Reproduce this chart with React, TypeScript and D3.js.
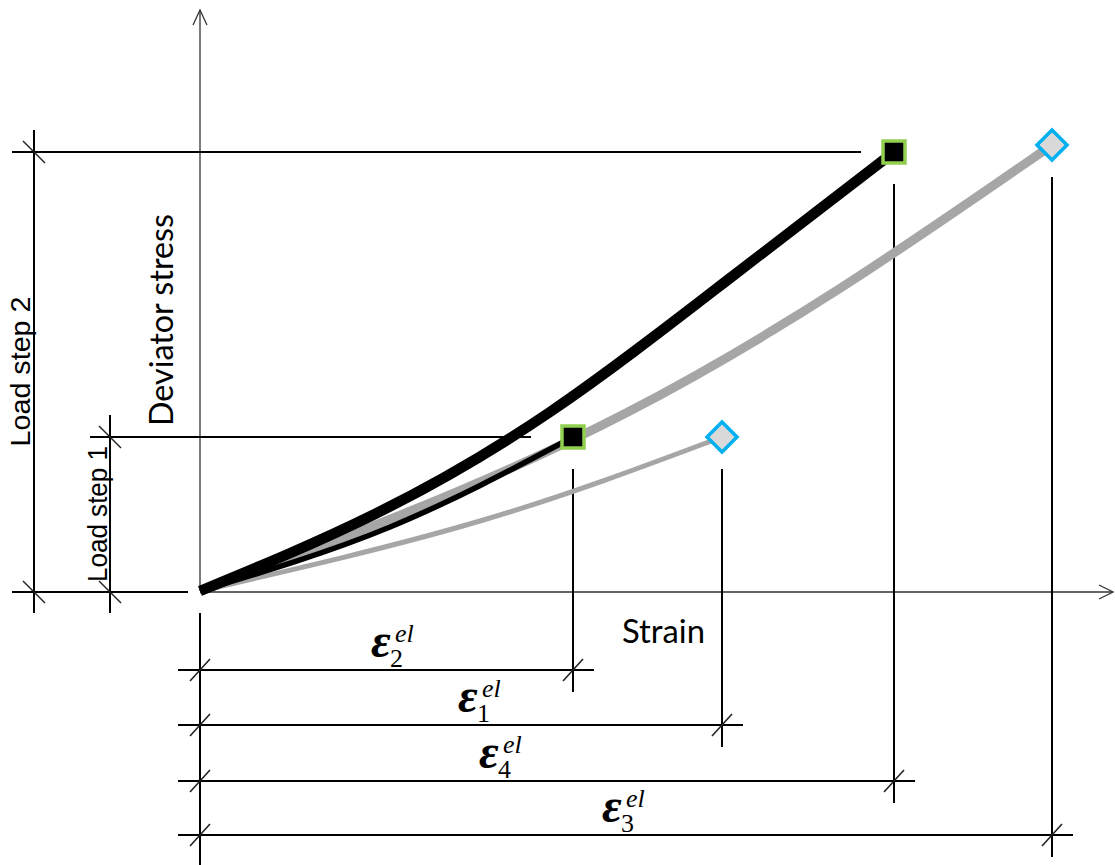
import React from 'react';
import * as d3 from 'd3';

// curve data: strain (x) and deviator stress (y), arbitrary units
const curve1Strain = [0, 2.8, 5.22];
const curve1Stress = [0, 0.7, 1.54];
const curve2Strain = [0, 1.9, 3.73];
const curve2Stress = [0, 0.64, 1.54];
const curve3Strain = [0, 2.13, 4.26, 6.39, 8.52];
const curve3Stress = [0, 0.81, 1.78, 3.02, 4.46];
const curve4Strain = [0, 1.75, 3.5, 5.25, 6.94];
const curve4Stress = [0, 0.77, 1.79, 3.09, 4.39];

// load steps (stress) and elastic strains
const loadStepLabels = ['Load step 1', 'Load step 2'];
const loadStepValues = [1.54, 4.39];
const strainIndex = ['2', '1', '4', '3'];
const strainValues = [3.73, 5.22, 6.94, 8.52];

const W = 1115;
const H = 865;

export default function App() {
  const x = d3.scaleLinear().domain([0, 9.13]).range([200, 1113]);
  const y = d3.scaleLinear().domain([0, 5.81]).range([591, 10]);
  const x0 = x(0);
  const y0 = y(0);

  const line = d3.line<[number, number]>()
    .x(d => x(d[0]))
    .y(d => y(d[1]))
    .curve(d3.curveNatural);
  const pts = (xs: number[], ys: number[]) => xs.map((v, i) => [v, ys[i]] as [number, number]);

  const curves = [
    { d: line(pts(curve1Strain, curve1Stress)), color: '#a6a6a6', w: 5 },
    { d: line(pts(curve3Strain, curve3Stress)), color: '#a6a6a6', w: 9 },
    { d: line(pts(curve2Strain, curve2Stress)), color: '#000', w: 5.5 },
    { d: line(pts(curve4Strain, curve4Stress)), color: '#000', w: 10.5 },
  ];

  // end points of each strain (marker positions)
  const last = (a: number[]) => a[a.length - 1];
  const ends = [
    { sx: last(curve2Strain), sy: last(curve2Stress), kind: 'sq' },
    { sx: last(curve1Strain), sy: last(curve1Stress), kind: 'dia' },
    { sx: last(curve4Strain), sy: last(curve4Stress), kind: 'sq' },
    { sx: last(curve3Strain), sy: last(curve3Stress), kind: 'dia' },
  ];

  // layout of dimension rows below the axis
  const rowOffsets = [79, 134, 190, 244];
  const labelLeft = [371, 458, 479, 602];
  const dimCols = [110, 34];
  const loadLineStart = [90, 12];
  const loadLineGap = [42, 33];
  const loadMarkerStrain = [strainValues[0], strainValues[2]];

  const stroke = '#000';
  const backslash = (cx: number, cy: number, k: number) => (
    <line key={`b${k}`} x1={cx - 11} y1={cy - 11} x2={cx + 11} y2={cy + 11} stroke="#222" strokeWidth={1.4} />
  );
  const slash = (cx: number, cy: number, k: string) => (
    <line key={`s${k}`} x1={cx - 10} y1={cy + 11} x2={cx + 10} y2={cy - 11} stroke="#222" strokeWidth={1.6} />
  );

  return (
    <svg width={W} height={H} style={{ position: 'absolute', left: 0, top: 0, display: 'block', background: '#fff' }}>
      {/* axes */}
      <g stroke="#333" strokeWidth={1.3} fill="none">
        <line x1={x0} y1={y0} x2={x0} y2={10} />
        <polyline points={`${x0 - 7},25 ${x0},10 ${x0 + 7},25`} />
        <line x1={x0} y1={y0 + 1} x2={1113} y2={y0 + 1} />
        <polyline points={`1099,${y0 - 6} 1113,${y0 + 1} 1099,${y0 + 8}`} />
      </g>

      {/* stress dimensions */}
      <g stroke={stroke} strokeWidth={2}>
        <line x1={12} y1={y0 + 1} x2={188} y2={y0 + 1} />
        {loadStepValues.map((v, i) => (
          <g key={`ls${i}`}>
            <line x1={loadLineStart[i]} y1={y(v)} x2={x(loadMarkerStrain[i]) - loadLineGap[i]} y2={y(v)} />
            <line x1={dimCols[i]} y1={y(v) - 22} x2={dimCols[i]} y2={y0 + 22} />
          </g>
        ))}
      </g>
      {loadStepValues.map((v, i) => backslash(dimCols[i], y(v), i))}
      {dimCols.map((c, i) => backslash(c, y0 + 1, 10 + i))}
      {loadStepValues.map((v, i) => {
        const cy = (y(v) + y0) / 2;
        const bx = dimCols[i] - (i === 0 ? 3 : 4);
        return (
          <text key={`lt${i}`} transform={`translate(${bx},${cy}) rotate(-90)`} textAnchor="middle"
            fontFamily="'Liberation Sans', Arial, sans-serif" fontSize={28}
            textLength={i === 0 ? 136 : 150} lengthAdjust="spacingAndGlyphs">
            {loadStepLabels[i]}
          </text>
        );
      })}

      {/* strain dimensions */}
      <g stroke={stroke} strokeWidth={2}>
        <line x1={x0} y1={y0 + 22} x2={x0} y2={H} />
        {strainValues.map((v, i) => (
          <g key={`sd${i}`}>
            <line x1={178} y1={y0 + rowOffsets[i]} x2={x(v) + 21} y2={y0 + rowOffsets[i]} />
            <line x1={x(v)} y1={y(ends[i].sy) + 32} x2={x(v)} y2={y0 + rowOffsets[i] + 22} />
          </g>
        ))}
      </g>
      {strainValues.map((v, i) => (
        <g key={`st${i}`}>
          {slash(x0, y0 + rowOffsets[i], `a${i}`)}
          {slash(x(v), y0 + rowOffsets[i], `b${i}`)}
        </g>
      ))}
      {strainValues.map((v, i) => {
        const ry = y0 + rowOffsets[i];
        const lx = labelLeft[i];
        return (
          <g key={`eps${i}`} fontFamily="'Liberation Serif', 'Times New Roman', serif">
            <text x={lx} y={ry - 13} fontSize={48} fontWeight="bold" fontStyle="italic">ε</text>
            <text x={lx + 24} y={ry - 28} fontSize={26} fontStyle="italic">el</text>
            <text x={lx + 19} y={ry - 3} fontSize={26}>{strainIndex[i]}</text>
          </g>
        );
      })}

      {/* curves */}
      {curves.map((c, i) => (
        <path key={`c${i}`} d={c.d || ''} fill="none" stroke={c.color} strokeWidth={c.w} strokeLinejoin="round" />
      ))}

      {/* markers */}
      {ends.map((e, i) => {
        const cx = x(e.sx);
        const cy = y(e.sy);
        if (e.kind === 'sq') {
          return <rect key={`m${i}`} x={cx - 11} y={cy - 11} width={22} height={22} fill="#000" stroke="#92d050" strokeWidth={3.5} />;
        }
        return (
          <path key={`m${i}`} d={`M${cx},${cy - 15} L${cx + 15},${cy} L${cx},${cy + 15} L${cx - 15},${cy} Z`}
            fill="#d9d9d9" stroke="#00b0f0" strokeWidth={3.5} />
        );
      })}

      {/* axis titles */}
      <text transform={`translate(173,320) rotate(-90)`} textAnchor="middle" fontFamily="Lato, 'Open Sans', sans-serif"
        fontSize={33} textLength={212} lengthAdjust="spacingAndGlyphs">Deviator stress</text>
      <text x={622} y={643} fontFamily="Lato, 'Open Sans', sans-serif" fontSize={33} textLength={83}
        lengthAdjust="spacingAndGlyphs">Strain</text>
    </svg>
  );
}
